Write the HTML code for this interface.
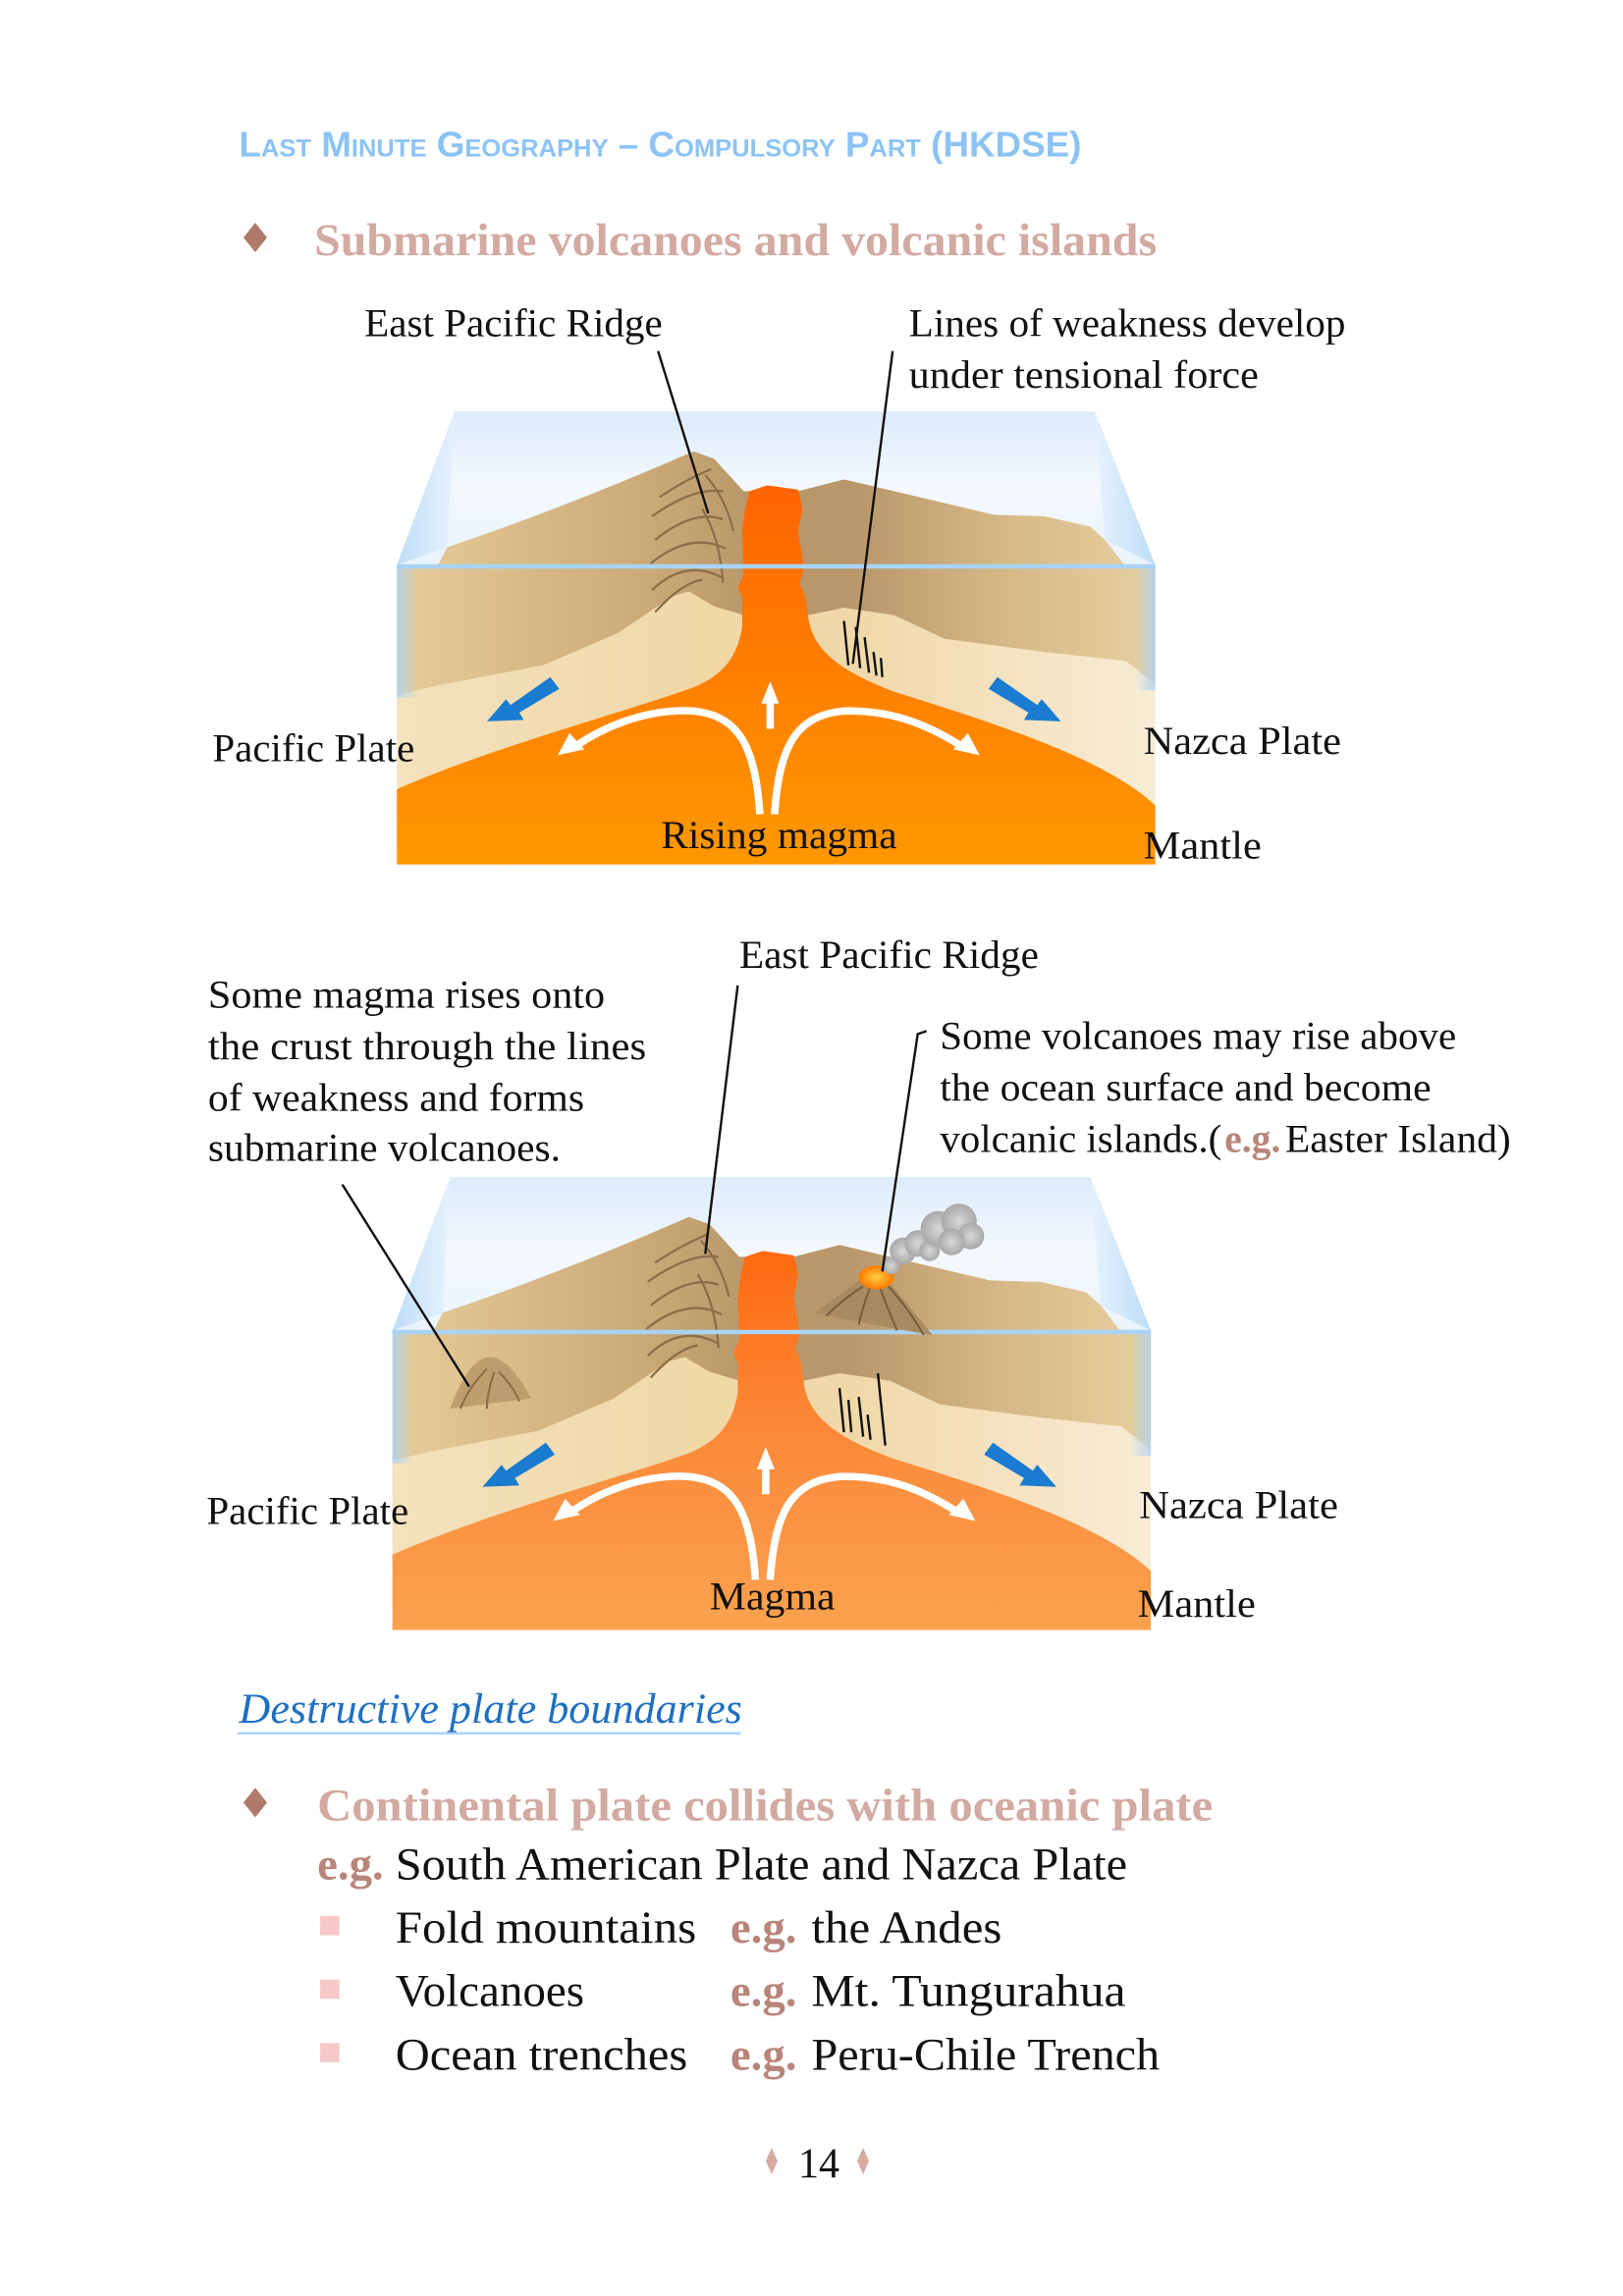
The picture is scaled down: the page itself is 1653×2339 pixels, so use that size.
<!DOCTYPE html>
<html><head><meta charset="utf-8">
<style>
html,body{margin:0;padding:0;background:#fff;}
svg{display:block;}
.s{font-family:"Liberation Serif",serif;fill:#111;}
</style></head>
<body>
<svg width="1653" height="2339" viewBox="0 0 1100 1556.5" preserveAspectRatio="none" xmlns="http://www.w3.org/2000/svg">
<defs>
 <linearGradient id="wat" x1="0" y1="0" x2="0" y2="1">
  <stop offset="0" stop-color="#dcebfa"/><stop offset="0.5" stop-color="#f4f9fe"/><stop offset="1" stop-color="#eaf3fc"/>
 </linearGradient>
 <linearGradient id="side" x1="0" y1="0" x2="1" y2="0">
  <stop offset="0" stop-color="#b9dbf7"/><stop offset="1" stop-color="#e6f1fc"/>
 </linearGradient>
 <linearGradient id="sideR" x1="1" y1="0" x2="0" y2="0">
  <stop offset="0" stop-color="#b9dbf7"/><stop offset="1" stop-color="#e6f1fc"/>
 </linearGradient>
 <linearGradient id="edgeL" x1="0" y1="0" x2="1" y2="0">
  <stop offset="0" stop-color="#a9d3f5" stop-opacity="0.8"/><stop offset="1" stop-color="#a9d3f5" stop-opacity="0"/>
 </linearGradient>
 <linearGradient id="edgeR" x1="1" y1="0" x2="0" y2="0">
  <stop offset="0" stop-color="#a9d3f5" stop-opacity="0.8"/><stop offset="1" stop-color="#a9d3f5" stop-opacity="0"/>
 </linearGradient>
 <linearGradient id="brown" x1="0" y1="0" x2="1" y2="0">
  <stop offset="0" stop-color="#e6cc9a"/><stop offset="0.35" stop-color="#c9a775"/><stop offset="0.47" stop-color="#b8976a"/>
  <stop offset="0.6" stop-color="#b8976a"/><stop offset="0.8" stop-color="#d6b886"/><stop offset="1" stop-color="#e8d0a0"/>
 </linearGradient>
 <linearGradient id="cream" x1="0" y1="0" x2="1" y2="0">
  <stop offset="0" stop-color="#f8ecd6"/><stop offset="0.4" stop-color="#f1d8a8"/><stop offset="0.6" stop-color="#f1d8a8"/><stop offset="1" stop-color="#f8ecd6"/>
 </linearGradient>
 <linearGradient id="mag1" x1="0" y1="0" x2="0" y2="1">
  <stop offset="0" stop-color="#ff6400"/><stop offset="0.5" stop-color="#ff7f00"/><stop offset="1" stop-color="#ff9800"/>
 </linearGradient>
 <linearGradient id="mag2" x1="0" y1="0" x2="0" y2="1">
  <stop offset="0" stop-color="#ff6a10"/><stop offset="0.5" stop-color="#fb8a3a"/><stop offset="1" stop-color="#fba24e"/>
 </linearGradient>
 <radialGradient id="lava" cx="0.5" cy="0.5" r="0.5">
  <stop offset="0" stop-color="#ffd040"/><stop offset="1" stop-color="#ff7a00"/>
 </radialGradient>
 <radialGradient id="smoke" cx="0.5" cy="0.5" r="0.5">
  <stop offset="0" stop-color="#d8d8d8"/><stop offset="1" stop-color="#a8a8a8"/>
 </radialGradient>
</defs>

<text x="162" y="106" font-family="Liberation Sans, sans-serif" font-weight="bold" font-size="24" fill="#8cc3f5" style="font-variant:small-caps" textLength="571" lengthAdjust="spacingAndGlyphs">Last Minute Geography – Compulsory Part (HKDSE)</text>
<polygon points="173,151 181,161 173,171 165,161" fill="#b07a6a"/>
<text x="213" y="173" class="s" font-weight="bold" font-size="31" style="fill:#d2aaa2" textLength="571" lengthAdjust="spacingAndGlyphs">Submarine volcanoes and volcanic islands</text>

<g id="d1">
 <polygon points="308,279 742,279 783,383 269,383" fill="url(#wat)"/>
 <polygon points="308,279 269,383 303,371" fill="url(#side)" opacity="0.9"/>
 <polygon points="742,279 783,383 749,366" fill="url(#sideR)" opacity="0.9"/>
 <rect x="269" y="383" width="514" height="203" fill="url(#cream)"/>
 <path d="M269,471 L269,383 L297,383 L303,371 Q380,345 463,309 L470,306 L484,311 L504,333 L541,333 L572,325 L606,333 L674,349 L708,350 L739,357 L749,366 L762,383 L783,383 L783,464 L763,448 L708,442 L640,433 L606,417 L572,412 L548,417 L504,417 L484,411 L467,401 L456,404 L419,429 L368,451 L300,464 Z" fill="url(#brown)"/>
 <path d="M269,471 L300,464 L368,451 L419,429 L456,404 L467,401 L484,411 L504,420 L504,500 L269,540 Z" fill="#f0d7a6" opacity="0.5"/>
 <g fill="none" stroke="#8a6e48" stroke-width="1.5">
  <path d="M447,337 Q465,325 482,318"/><path d="M442,350 Q470,330 490,333"/>
  <path d="M444,366 Q470,345 490,352"/><path d="M441,382 Q468,360 492,372"/>
  <path d="M442,400 Q465,378 490,392"/><path d="M444,415 Q462,395 476,393"/>
  <path d="M478,322 Q492,338 497,360"/><path d="M476,345 Q488,365 490,395"/>
 </g>
 <path d="M269,535 C335,506 420,484 470,466 C490,458 500,445 503,425 L503,405 L500,398 L504,390 L503,360 L505,345 L508,333 L520,329 L541,332 L544,345 L541,360 L545,385 L542,395 L546,405 L548,420 C552,442 570,455 606,469 C680,492 750,515 783,546 L783,586 L269,586 Z" fill="url(#mag1)"/>
 <g stroke="#111" stroke-width="1.6">
  <line x1="572" y1="421" x2="575" y2="451"/><line x1="580" y1="425" x2="583" y2="453"/>
  <line x1="586" y1="432" x2="589" y2="456"/><line x1="592" y1="442" x2="594" y2="458"/>
  <line x1="597" y1="446" x2="598" y2="459"/>
 </g>
 <rect x="269" y="383" width="14" height="90" fill="url(#edgeL)"/>
 <rect x="769" y="383" width="14" height="85" fill="url(#edgeR)"/>
 <line x1="269" y1="384" x2="783" y2="384" stroke="#a9d3f5" stroke-width="3"/>
 <g fill="none" stroke="#fff" stroke-width="5">
  <path d="M515,552 C512,505 500,485 470,482 C440,480 410,492 390,506"/>
  <path d="M525,552 C528,505 540,485 572,482 C605,481 630,492 652,506"/>
  <line x1="522" y1="494" x2="522" y2="475"/>
 </g>
 <polygon points="378,512 386,497 396,508" fill="#fff"/>
 <polygon points="664,512 646,508 656,497" fill="#fff"/>
 <polygon points="516,477 528,477 522,462" fill="#fff"/>
 <g fill="#1a7cd0">
  <polygon points="373,459 379,467 352,483 355,488 330,489 343,474 346,478"/>
  <polygon points="676,459 670,467 697,483 694,488 719,489 706,474 703,478"/>
 </g>
</g>
<line x1="446" y1="238" x2="480" y2="348" stroke="#111" stroke-width="1.6"/>
<line x1="605" y1="238" x2="578" y2="450" stroke="#111" stroke-width="1.6"/>
<text x="247" y="228" class="s" font-size="27" textLength="202" lengthAdjust="spacingAndGlyphs">East Pacific Ridge</text>
<text x="616" y="228" class="s" font-size="27" textLength="296" lengthAdjust="spacingAndGlyphs">Lines of weakness develop</text>
<text x="616" y="263" class="s" font-size="27" textLength="237" lengthAdjust="spacingAndGlyphs">under tensional force</text>
<text x="144" y="516" class="s" font-size="27" textLength="137" lengthAdjust="spacingAndGlyphs">Pacific Plate</text>
<text x="775" y="511" class="s" font-size="27" textLength="134" lengthAdjust="spacingAndGlyphs">Nazca Plate</text>
<text x="775" y="582" class="s" font-size="27" textLength="80" lengthAdjust="spacingAndGlyphs">Mantle</text>
<text x="448" y="575" class="s" font-size="27" textLength="160" lengthAdjust="spacingAndGlyphs">Rising magma</text>

<g transform="translate(-3,519)">
 <polygon points="308,279 742,279 783,383 269,383" fill="url(#wat)"/>
 <polygon points="308,279 269,383 303,371" fill="url(#side)" opacity="0.9"/>
 <polygon points="742,279 783,383 749,366" fill="url(#sideR)" opacity="0.9"/>
 <rect x="269" y="383" width="514" height="203" fill="url(#cream)"/>
 <path d="M269,471 L269,383 L297,383 L303,371 Q380,345 463,309 L470,306 L484,311 L504,333 L541,333 L572,325 L606,333 L674,349 L708,350 L739,357 L749,366 L762,383 L783,383 L783,464 L763,448 L708,442 L640,433 L606,417 L572,412 L548,417 L504,417 L484,411 L467,401 L456,404 L419,429 L368,451 L300,464 Z" fill="url(#brown)"/>
 <path d="M269,471 L300,464 L368,451 L419,429 L456,404 L467,401 L484,411 L504,420 L504,500 L269,540 Z" fill="#f0d7a6" opacity="0.5"/>
 <g fill="none" stroke="#8a6e48" stroke-width="1.5">
  <path d="M447,337 Q465,325 482,318"/><path d="M442,350 Q470,330 490,333"/>
  <path d="M444,366 Q470,345 490,352"/><path d="M441,382 Q468,360 492,372"/>
  <path d="M442,400 Q465,378 490,392"/><path d="M444,415 Q462,395 476,393"/>
  <path d="M478,322 Q492,338 497,360"/><path d="M476,345 Q488,365 490,395"/>
 </g>
 <path d="M269,535 C335,506 420,484 470,466 C490,458 500,445 503,425 L503,405 L500,398 L504,390 L503,360 L505,345 L508,333 L520,329 L541,332 L544,345 L541,360 L545,385 L542,395 L546,405 L548,420 C552,442 570,455 606,469 C680,492 750,515 783,546 L783,586 L269,586 Z" fill="url(#mag2)"/>
 <g stroke="#111" stroke-width="1.6">
  <line x1="572" y1="422" x2="575" y2="452"/><line x1="578" y1="430" x2="580" y2="452"/>
  <line x1="585" y1="428" x2="588" y2="455"/><line x1="591" y1="440" x2="593" y2="457"/>
  <line x1="598" y1="412" x2="603" y2="461"/>
 </g>
 <rect x="269" y="383" width="14" height="90" fill="url(#edgeL)"/>
 <rect x="769" y="383" width="14" height="85" fill="url(#edgeR)"/>
 <line x1="269" y1="384" x2="783" y2="384" stroke="#a9d3f5" stroke-width="3"/>
 <g fill="none" stroke="#fff" stroke-width="5">
  <path d="M515,552 C512,505 500,485 470,482 C440,480 410,492 390,506"/>
  <path d="M525,552 C528,505 540,485 572,482 C605,481 630,492 652,506"/>
  <line x1="522" y1="494" x2="522" y2="475"/>
 </g>
 <polygon points="378,512 386,497 396,508" fill="#fff"/>
 <polygon points="664,512 646,508 656,497" fill="#fff"/>
 <polygon points="516,477 528,477 522,462" fill="#fff"/>
 <g fill="#1a7cd0">
  <polygon points="373,459 379,467 352,483 355,488 330,489 343,474 346,478"/>
  <polygon points="676,459 670,467 697,483 694,488 719,489 706,474 703,478"/>
 </g>
</g>
<path d="M305,955 Q318,920 332,920 Q345,920 360,948 Z" fill="#b8976a" opacity="0.85"/>
<g fill="none" stroke="#8a6e48" stroke-width="1.4">
 <path d="M330,928 Q318,940 312,955"/><path d="M335,930 Q330,945 330,955"/><path d="M338,930 Q348,940 352,950"/>
</g>
<path d="M552,890 L585,866 L600,866 L632,905 Q600,900 552,890 Z" fill="#a98b62"/>
<g fill="none" stroke="#7a5f3c" stroke-width="1.4">
 <path d="M585,872 Q572,880 560,892"/><path d="M590,872 Q585,885 582,898"/><path d="M596,872 Q602,888 608,902"/><path d="M600,870 Q614,884 626,905"/>
</g>
<ellipse cx="594" cy="866" rx="12" ry="8" fill="url(#lava)"/>
<g fill="url(#smoke)">
 <circle cx="604" cy="858" r="6"/>
 <circle cx="612" cy="848" r="9"/><circle cx="622" cy="843" r="9"/><circle cx="630" cy="848" r="7"/>
 <circle cx="636" cy="833" r="12"/><circle cx="650" cy="828" r="12"/><circle cx="658" cy="838" r="9"/><circle cx="645" cy="842" r="9"/>
</g>
<line x1="500" y1="668" x2="478" y2="850" stroke="#111" stroke-width="1.6"/>
<polyline points="628,699 622,701 598,862" fill="none" stroke="#111" stroke-width="1.6"/>
<line x1="232" y1="803" x2="318" y2="940" stroke="#111" stroke-width="1.6"/>
<text x="501" y="656" class="s" font-size="27" textLength="203" lengthAdjust="spacingAndGlyphs">East Pacific Ridge</text>
<text x="141" y="683" class="s" font-size="27" textLength="269" lengthAdjust="spacingAndGlyphs">Some magma rises onto</text>
<text x="141" y="718" class="s" font-size="27" textLength="297" lengthAdjust="spacingAndGlyphs">the crust through the lines</text>
<text x="141" y="753" class="s" font-size="27" textLength="255" lengthAdjust="spacingAndGlyphs">of weakness and forms</text>
<text x="141" y="787" class="s" font-size="27" textLength="239" lengthAdjust="spacingAndGlyphs">submarine volcanoes.</text>
<text x="637" y="711" class="s" font-size="27" textLength="350" lengthAdjust="spacingAndGlyphs">Some volcanoes may rise above</text>
<text x="637" y="746" class="s" font-size="27" textLength="333" lengthAdjust="spacingAndGlyphs">the ocean surface and become</text>
<text x="637" y="781" class="s" font-size="27" textLength="191" lengthAdjust="spacingAndGlyphs">volcanic islands.(</text>
<text x="830" y="781" class="s" font-size="27" font-weight="bold" style="fill:#b8857a" textLength="38" lengthAdjust="spacingAndGlyphs">e.g.</text>
<text x="871" y="781" class="s" font-size="27" textLength="153" lengthAdjust="spacingAndGlyphs">Easter Island)</text>
<text x="140" y="1033" class="s" font-size="27" textLength="137" lengthAdjust="spacingAndGlyphs">Pacific Plate</text>
<text x="772" y="1029" class="s" font-size="27" textLength="135" lengthAdjust="spacingAndGlyphs">Nazca Plate</text>
<text x="771" y="1096" class="s" font-size="27" textLength="80" lengthAdjust="spacingAndGlyphs">Mantle</text>
<text x="481" y="1091" class="s" font-size="27" textLength="85" lengthAdjust="spacingAndGlyphs">Magma</text>

<text x="162" y="1168" class="s" font-size="29" font-style="italic" style="fill:#1e6fc2" textLength="341" lengthAdjust="spacingAndGlyphs">Destructive plate boundaries</text>
<line x1="161" y1="1175" x2="502" y2="1175" stroke="#a7cdf2" stroke-width="1.5"/>

<polygon points="173,1212 181,1222 173,1232 165,1222" fill="#b07a6a"/>
<text x="215" y="1234" class="s" font-weight="bold" font-size="31" style="fill:#d2aaa2" textLength="607" lengthAdjust="spacingAndGlyphs">Continental plate collides with oceanic plate</text>
<text x="215" y="1274" class="s" font-weight="bold" font-size="31" style="fill:#b8857a" textLength="45" lengthAdjust="spacingAndGlyphs">e.g.</text>
<text x="268" y="1274" class="s" font-size="31" textLength="496" lengthAdjust="spacingAndGlyphs">South American Plate and Nazca Plate</text>

<rect x="217" y="1299" width="13" height="13" fill="#f8c8c8"/>
<rect x="217" y="1342" width="13" height="13" fill="#f8c8c8"/>
<rect x="217" y="1385" width="13" height="13" fill="#f8c8c8"/>
<text x="268" y="1317" class="s" font-size="31" textLength="204" lengthAdjust="spacingAndGlyphs">Fold mountains</text>
<text x="268" y="1360" class="s" font-size="31" textLength="128" lengthAdjust="spacingAndGlyphs">Volcanoes</text>
<text x="268" y="1403" class="s" font-size="31" textLength="198" lengthAdjust="spacingAndGlyphs">Ocean trenches</text>
<text x="495" y="1317" class="s" font-weight="bold" font-size="31" style="fill:#b8857a" textLength="45" lengthAdjust="spacingAndGlyphs">e.g.</text>
<text x="495" y="1360" class="s" font-weight="bold" font-size="31" style="fill:#b8857a" textLength="45" lengthAdjust="spacingAndGlyphs">e.g.</text>
<text x="495" y="1403" class="s" font-weight="bold" font-size="31" style="fill:#b8857a" textLength="45" lengthAdjust="spacingAndGlyphs">e.g.</text>
<text x="550" y="1317" class="s" font-size="31" textLength="129" lengthAdjust="spacingAndGlyphs">the Andes</text>
<text x="550" y="1360" class="s" font-size="31" textLength="213" lengthAdjust="spacingAndGlyphs">Mt. Tungurahua</text>
<text x="550" y="1403" class="s" font-size="31" textLength="236" lengthAdjust="spacingAndGlyphs">Peru-Chile Trench</text>

<polygon points="523,1456 527,1465 523,1474 519,1465" fill="#d9aaa2"/>
<polygon points="585,1456 589,1465 585,1474 581,1465" fill="#d9aaa2"/>
<text x="541" y="1476" class="s" font-size="29" textLength="28" lengthAdjust="spacingAndGlyphs">14</text>
</svg>
</body></html>
